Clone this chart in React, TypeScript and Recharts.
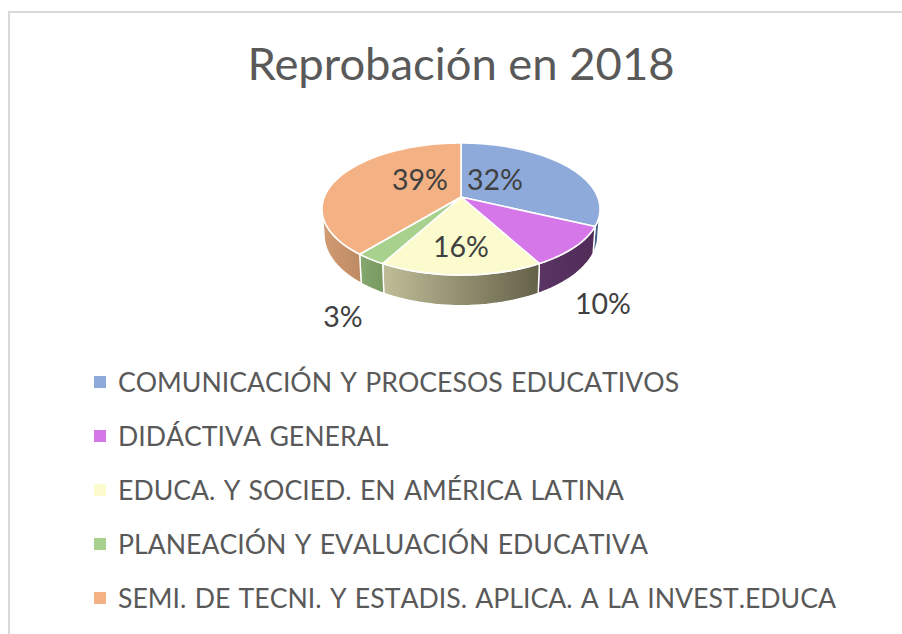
import * as React from "react";
import { PieChart, Pie, Legend } from "recharts";

const categories = [
  "COMUNICACIÓN Y PROCESOS EDUCATIVOS",
  "DIDÁCTIVA GENERAL",
  "EDUCA. Y SOCIED. EN AMÉRICA LATINA",
  "PLANEACIÓN Y EVALUACIÓN EDUCATIVA",
  "SEMI. DE TECNI. Y ESTADIS. APLICA. A LA INVEST.EDUCA",
];
const percents = [32, 10, 16, 3, 39];

const topColors = ["#8eaadb", "#d577e9", "#fbfbcd", "#a9d18e", "#f4b183"];
// left/right colours of the side wall gradient
const wallColors = [
  ["#4d6a94", "#3f5878"],
  ["#5a3463", "#512c58"],
  ["#c0bd98", "#646149"],
  ["#85a871", "#78995f"],
  ["#d29c73", "#bd8a63"],
];
// label offsets from the pie centre, the original has them dragged by hand
const labelOffsets = [
  [34, -18],
  [142, 106],
  [0, 49],
  [-118, 119],
  [-41, -18],
];

const CX = 461;
const CY = 197;
const RADIUS = 136.7;
const TILT = 0.467;
const PERSPECTIVE = 0.182;
const DEPTH = 25;
const FONT = "Lato, 'Open Sans', sans-serif";

const tableData = categories.map((name, i) => ({
  name,
  value: percents[i],
  fill: topColors[i],
  idx: i,
}));

// recharts angle (counter clockwise from 3 o'clock) -> point on the tilted disc
function project(cx: number, cy: number, r: number, angle: number, drop = 0, shrink = 1) {
  const t = ((90 - angle) * Math.PI) / 180;
  const u = Math.sin(t);
  const s = -Math.cos(t);
  const w = 1 - PERSPECTIVE * s;
  return [cx + (r * shrink * u) / w, cy + (r * TILT * s) / w + drop / w];
}

function arcPoints(props: any, from: number, to: number, drop = 0, shrink = 1) {
  const steps = Math.max(2, Math.ceil(Math.abs(from - to) / 2));
  const pts: string[] = [];
  for (let k = 0; k <= steps; k++) {
    const a = from + ((to - from) * k) / steps;
    const [x, y] = project(props.cx, props.cy, props.outerRadius, a, drop, shrink);
    pts.push(`${x.toFixed(2)} ${y.toFixed(2)}`);
  }
  return pts;
}

function TopFace(props: any) {
  const pts = arcPoints(props, props.startAngle, props.endAngle);
  const d = `M${props.cx} ${props.cy} L${pts.join(" L")} Z`;
  return <path d={d} fill={props.fill} stroke="#ffffff" strokeWidth={1.6} strokeLinejoin="round" />;
}

// only the part of the rim facing the viewer is drawn (silhouette sits ~10deg behind 3 and 9 o'clock)
function SideWall(props: any) {
  const frontStart = -10 - 0.5;
  const frontEnd = -169.5;
  const from = Math.min(props.startAngle, frontStart);
  const to = Math.max(props.endAngle, frontEnd);
  if (from <= to) return null;
  const upper = arcPoints(props, from, to);
  const lower = arcPoints(props, to, from, DEPTH, 0.985);
  const idx = props.idx ?? props.payload?.idx;
  const d = `M${upper.join(" L")} L${lower.join(" L")} Z`;
  return <path d={d} fill={`url(#wall-${idx})`} stroke="#ffffff" strokeWidth={1.4} strokeLinejoin="round" />;
}

function renderPercent(props: any) {
  const idx = props.idx ?? props.payload?.idx;
  const [dx, dy] = labelOffsets[idx];
  return (
    <text
      x={CX + dx}
      y={CY + dy}
      textAnchor="middle"
      dominantBaseline="central"
      fill="#404040"
      style={{ fontFamily: FONT, fontSize: 28.5 }}
    >
      {`${props.value}%`}
    </text>
  );
}

function renderLegend(props: any) {
  // both Pie layers report their entries, keep one of each
  const seen = new Set<string>();
  const items = props.payload.filter((entry: any) => {
    if (seen.has(entry.value)) return false;
    seen.add(entry.value);
    return true;
  });
  return (
    <div style={{ fontFamily: FONT, fontSize: 26.65, wordSpacing: 1.5, color: "#595959", fontKerning: "none" }}>
      {items.map((entry: any) => (
        <div key={entry.value} style={{ position: "relative", height: 54, lineHeight: "54px", whiteSpace: "nowrap" }}>
          <span
            style={{
              position: "absolute",
              left: 94,
              top: 21,
              width: 12,
              height: 12,
              background: entry.color,
            }}
          />
          <span style={{ position: "absolute", left: 118, top: 0 }}>{entry.value}</span>
        </div>
      ))}
    </div>
  );
}

export default function App() {
  return (
    <div style={{ position: "absolute", left: 0, top: 0, width: 902, height: 634, overflow: "hidden", background: "#fff" }}>
      <div
        style={{
          position: "absolute",
          left: 8,
          top: 11,
          width: 902,
          height: 640,
          borderLeft: "2px solid #d9d9d9",
          borderTop: "2px solid #d9d9d9",
        }}
      />
      <PieChart width={902} height={634} margin={{ top: 0, right: 0, bottom: 0, left: 0 }} style={{ position: "absolute", left: 0, top: 0 }}>
        <defs>
          {wallColors.map((c, i) => (
            <linearGradient key={i} id={`wall-${i}`} x1="0" y1="0" x2="1" y2="0">
              <stop offset="0%" stopColor={c[0]} />
              <stop offset="100%" stopColor={c[1]} />
            </linearGradient>
          ))}
        </defs>
        <text x={CX} y={62} textAnchor="middle" dominantBaseline="central" fill="#595959" style={{ fontFamily: FONT, fontSize: 45.4 }}>
          Reprobación en 2018
        </text>
        <Pie
          data={tableData}
          dataKey="value"
          nameKey="name"
          cx={CX}
          cy={CY}
          outerRadius={RADIUS}
          startAngle={90}
          endAngle={-270}
          legendType="none"
          shape={SideWall}
          isAnimationActive={false}
        />
        <Pie
          data={tableData}
          dataKey="value"
          nameKey="name"
          cx={CX}
          cy={CY}
          outerRadius={RADIUS}
          startAngle={90}
          endAngle={-270}
          shape={TopFace}
          label={renderPercent}
          labelLine={false}
          isAnimationActive={false}
        />
        <Legend content={renderLegend} layout="vertical" wrapperStyle={{ left: 0, top: 355, width: 902 }} />
      </PieChart>
    </div>
  );
}
